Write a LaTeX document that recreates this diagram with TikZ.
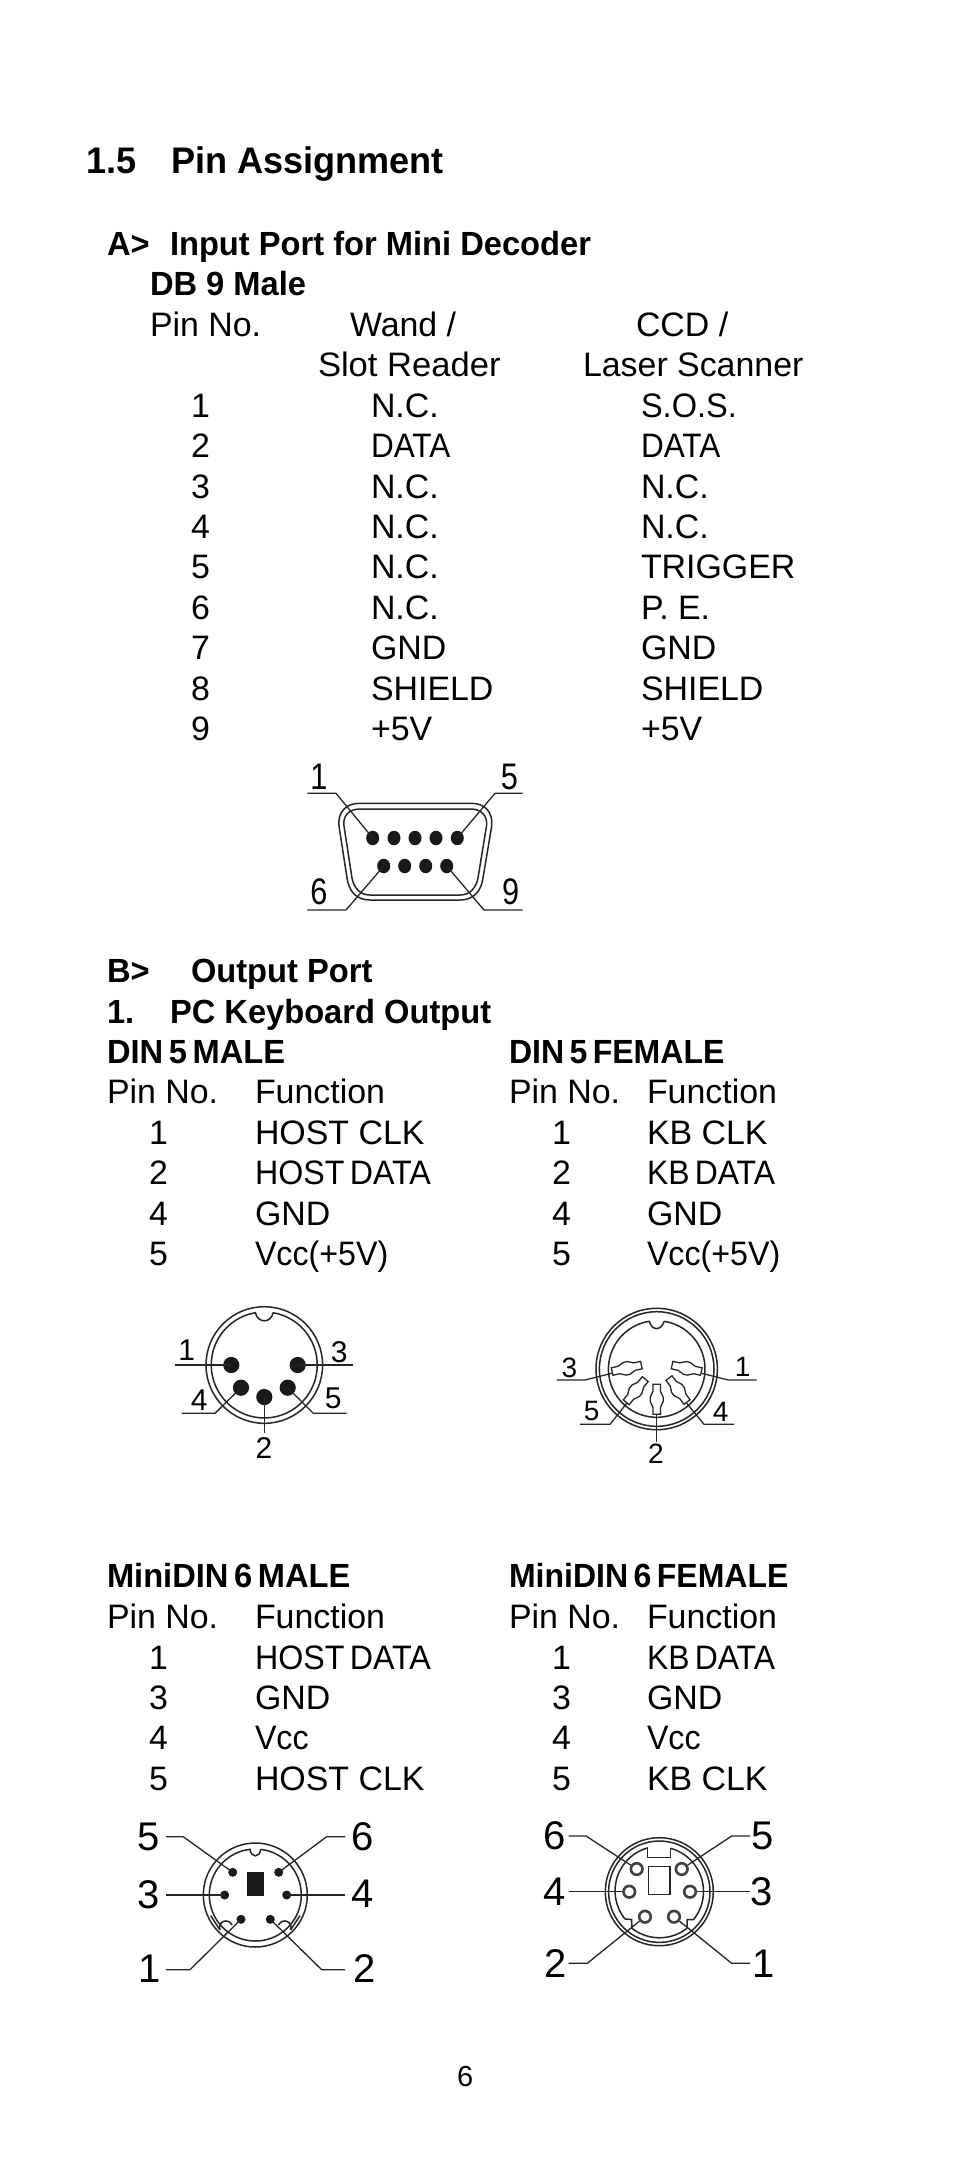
\documentclass[tikz,border=0pt]{standalone}
\usepackage{fontspec}
\usetikzlibrary{shapes.geometric}
\setmainfont[BoldFeatures={FakeStretch=0.975}]{Liberation Sans}
\newcounter{tn}
\tikzset{
 txt/.style={anchor=base west,inner sep=0pt,outer sep=0pt},
 digit/.style={anchor=center,inner sep=0pt,outer sep=0pt},
 leader/.style={draw=black!85,line width=1.3pt},
 outline/.style={draw=black!85,line width=1.5pt},
 solidpin/.style={circle,fill=black!90,draw=none,inner sep=0pt},
 ringpin/.style={circle,draw=black!75,line width=2.6pt,fill=white,inner sep=0pt,minimum size=11.6pt},
}
\newcommand\bodyf{\fontsize{33.9}{40}\selectfont}
\newcommand\boldf{\fontsize{33.5}{40}\selectfont\bfseries}
\newcommand\Sx[2]{\scalebox{#1}[1]{#2}}
\newcommand\T[3]{\stepcounter{tn}\node[txt] (t\arabic{tn}) at (#1,#2) {\bodyf #3};}
\newcommand\B[3]{\stepcounter{tn}\node[txt] (t\arabic{tn}) at (#1,#2) {\boldf #3};}
\newcommand\Dg[4]{\stepcounter{tn}\node[digit] (t\arabic{tn}) at (#1,#2) {\fontsize{#3}{#3}\selectfont #4};}
\newcommand\Dn[3]{\stepcounter{tn}\node[digit] (t\arabic{tn}) at (#1,#2) {\fontsize{37}{37}\selectfont\scalebox{0.83}[1]{#3}};}
% bent leader: free end, elbow, pin
\newcommand\LB[3]{\stepcounter{tn}\coordinate (a\arabic{tn}) at (#1); \coordinate (b\arabic{tn}) at (#2); \draw[leader] (a\arabic{tn}) -- (b\arabic{tn}) -- (#3);}
\newcommand\LS[2]{\stepcounter{tn}\coordinate (a\arabic{tn}) at (#1); \draw[leader] (a\arabic{tn}) -- (#2);}
\newcommand\Wavy[3]{\draw[outline,line width=1.3pt,shift={(#1,#2)},rotate=#3] (-15,-3.8) -- (-8,-3.8) .. controls (-5,-3.8) and (-5,-6.5) .. (-2,-6.5) -- (2,-6.5) .. controls (5,-6.5) and (5,-3.8) .. (8,-3.8) -- (15,-3.8) -- (15,3.8) -- (8,3.8) .. controls (5,3.8) and (5,6.5) .. (2,6.5) -- (-2,6.5) .. controls (-5,6.5) and (-5,3.8) .. (-8,3.8) -- (-15,3.8) -- cycle;}
\begin{document}
\begin{tikzpicture}[x=1pt,y=1pt,yscale=-1]
\useasboundingbox[fill=white] (0,0) rectangle (954,2173);
% title
\stepcounter{tn}\node[txt] (t\arabic{tn}) at (86,173) {\fontsize{37}{40}\selectfont\bfseries 1.5};
\stepcounter{tn}\node[txt] (t\arabic{tn}) at (171,173) {\fontsize{37}{40}\selectfont\bfseries Pin Assignment};
% section A
\B{107}{255}{A>}\B{170}{255}{Input Port for Mini Decoder}
\B{150}{295}{DB 9 Male}
\T{150}{336}{Pin No.}\T{350}{336}{Wand /}\T{636}{336}{CCD /}
\T{318}{376}{\Sx{1.02}{Slot Reader}}\T{583}{376}{Laser Scanner}
\foreach \y/\n/\a/\b in {417/1/N.C./\Sx{.96}{S.O.S.},457/2/\Sx{.93}{DATA}/\Sx{.93}{DATA},498/3/N.C./N.C.,538/4/N.C./N.C.,578/5/N.C./TRIGGER,619/6/N.C./P. E.,659/7/GND/GND,700/8/SHIELD/SHIELD,740/9/+5V/+5V}{
 \T{191}{\y}{\n}\T{371}{\y}{\a}\T{641}{\y}{\b}
}
% DB9
\draw[outline] (360,803.3) -- (471,803.3) .. controls (485,803.3) and (493,812) .. (491.7,826) -- (483,878) .. controls (481,892) and (473,900) .. (460,900) -- (370,900) .. controls (357,900) and (349,892) .. (347,878) -- (339,826) .. controls (337.5,812) and (346,803.3) .. (360,803.3) -- cycle;
\draw[outline] (360,809) -- (471,809) .. controls (481,809) and (488,816) .. (486.5,826) -- (478,878) .. controls (476,888) and (470,895) .. (460,895) -- (370,895) .. controls (360,895) and (354,888) .. (352,878) -- (344,826) .. controls (342.5,816) and (349,809) .. (360,809) -- cycle;
\foreach \n/\x in {1/372.7,2/394,3/415,4/436,5/457.3}{\node[solidpin,ellipse,minimum width=13pt,minimum height=14.5pt] (da\n) at (\x,838) {};}
\foreach \n/\x in {6/383.7,7/404.7,8/425.7,9/446.7}{\node[solidpin,ellipse,minimum width=13pt,minimum height=14.5pt] (da\n) at (\x,866) {};}
\LB{307.3,793.3}{336,793.3}{da1.center}
\LB{522.7,793.3}{495,793.3}{da5.center}
\LB{307.3,910}{346,910}{da6.center}
\LB{522.7,910}{484,910}{da9.center}
\Dn{319}{776.7}{1}\Dn{509.3}{776.7}{5}\Dn{319}{892}{6}\Dn{510.7}{892}{9}
% section B
\B{107}{982}{B>}\B{191}{982}{Output Port}
\B{107}{1023}{1.}\B{170}{1023}{PC Keyboard Output}
\B{107}{1063}{DIN\,5\,MALE}\B{509}{1063}{\Sx{.98}{DIN\,5\,FEMALE}}
\T{107}{1103}{Pin No.}\T{255}{1103}{Function}\T{509}{1103}{Pin No.}\T{647}{1103}{Function}
\T{149}{1144}{1}\T{255}{1144}{HOST CLK}\T{552}{1144}{1}\T{647}{1144}{KB CLK}
\T{149}{1184}{2}\T{255}{1184}{\Sx{.95}{HOST\,DATA}}\T{552}{1184}{2}\T{647}{1184}{\Sx{.94}{KB\,DATA}}
\T{149}{1225}{4}\T{255}{1225}{GND}\T{552}{1225}{4}\T{647}{1225}{GND}
\T{149}{1265}{5}\T{255}{1265}{\Sx{.95}{Vcc(+5V)}}\T{552}{1265}{5}\T{647}{1265}{\Sx{.95}{Vcc(+5V)}}
% DIN5 male
\draw[outline] (264.3,1365) circle[radius=58.3];
\draw[outline] (273.1,1312.7) arc[start angle=-80.4,end angle=260.4,radius=53] .. controls (257.6,1323.5) and (271,1323.5) .. (273.1,1312.7);
\foreach \n/\x/\y in {1/231.3/1365,3/297.7/1365,4/241/1387.7,5/287.7/1387.7,2/264.3/1397}{\node[solidpin,minimum size=16.2pt] (db\n) at (\x,\y) {};}
\LS{175,1365}{db1.center}
\LS{353.3,1365}{db3.center}
\LB{181.7,1413.3}{215,1413.3}{db4.center}
\LB{346.7,1413.3}{313.3,1413.3}{db5.center}
\LS{264.3,1433.3}{db2.center}
\Dg{186.7}{1350}{30}{1}\Dg{339.3}{1351.7}{30}{3}\Dg{199.3}{1400}{30}{4}\Dg{333.3}{1398.3}{30}{5}\Dg{264}{1448.3}{30}{2}
% DIN5 female
\draw[outline] (656.7,1369) circle[radius=60.7];
\draw[outline] (656.7,1369) circle[radius=57.3];
\draw[outline] (664.2,1321.3) arc[start angle=-81.1,end angle=261.1,radius=48.3] .. controls (652,1331) and (661,1331) .. (664.2,1321.3);
\Wavy{626.7}{1368.3}{-12.5}\Wavy{686.7}{1368.3}{12.5}\Wavy{635.7}{1390.7}{-50.6}\Wavy{678}{1390}{53}\Wavy{656.7}{1399.3}{90}
\coordinate (fp3) at (611.7,1373.3);\coordinate (fp1) at (701.7,1373.3);\coordinate (fp5) at (626.7,1403.3);\coordinate (fp4) at (686.7,1403.3);\coordinate (fp2) at (656.7,1414);
\LB{556.7,1380}{585,1380}{fp3}
\LB{756.7,1380}{728.3,1380}{fp1}
\LB{580,1424.3}{610,1424.3}{fp5}
\LB{734,1424.3}{704,1424.3}{fp4}
\LS{656.7,1441.7}{fp2}
\Dg{569.3}{1367.7}{28}{3}\Dg{742.7}{1366.7}{28}{1}\Dg{591.7}{1410.7}{28}{5}\Dg{720.7}{1411.7}{28}{4}\Dg{656}{1454}{28}{2}
% MiniDIN headings
\B{107}{1587.5}{MiniDIN\,6\,MALE}\B{509}{1587.5}{\Sx{.98}{MiniDIN\,6\,FEMALE}}
\T{107}{1628}{Pin No.}\T{255}{1628}{Function}\T{509}{1628}{Pin No.}\T{647}{1628}{Function}
\T{149}{1669}{1}\T{255}{1669}{\Sx{.95}{HOST\,DATA}}\T{552}{1669}{1}\T{647}{1669}{\Sx{.94}{KB\,DATA}}
\T{149}{1709}{3}\T{255}{1709}{GND}\T{552}{1709}{3}\T{647}{1709}{GND}
\T{149}{1749}{4}\T{255}{1749}{\Sx{.95}{Vcc}}\T{552}{1749}{4}\T{647}{1749}{\Sx{.95}{Vcc}}
\T{149}{1790}{5}\T{255}{1790}{HOST CLK}\T{552}{1790}{5}\T{647}{1790}{KB CLK}
% MiniDIN male
\draw[outline] (255.3,1895) circle[radius=52];
\draw[outline] (260.6,1849.3) arc[start angle=-83.4,end angle=263.4,radius=46] .. controls (251,1858) and (260,1858) .. (260.6,1849.3);
\draw[outline] (220,1930) .. controls (217,1922) and (228,1917) .. (232,1925);
\draw[outline] (290.6,1930) .. controls (293.6,1922) and (282.6,1917) .. (278.6,1925);
\draw[outline] (210.7,1915.7) -- (220,1930);
\draw[outline] (299.9,1915.7) -- (290.6,1930);
\node[rectangle,fill=black!90,draw=none,minimum width=17.3pt,minimum height=24pt,inner sep=0pt] (mrect) at (255.6,1883.7) {};
\foreach \n/\x/\y in {5/232.7/1872.3,6/278.7/1872.3,3/224.7/1895,4/286.7/1895,1/241/1919.3,2/270.3/1919.3}{\node[solidpin,minimum size=9pt] (mc\n) at (\x,\y) {};}
\LB{166,1836.7}{183.3,1836.7}{mc5.center}
\LB{345,1836.7}{326.7,1836.7}{mc6.center}
\LS{166,1895}{mc3.center}
\LS{345,1895}{mc4.center}
\LB{166,1969.7}{190,1969.7}{mc1.center}
\LB{345,1969.7}{321.7,1969.7}{mc2.center}
\Dg{148.3}{1836.7}{40}{5}\Dg{362.3}{1836.7}{40}{6}\Dg{148.3}{1895}{40}{3}\Dg{362.3}{1894}{40}{4}\Dg{150}{1969}{40}{1}\Dg{365}{1969}{40}{2}
% MiniDIN female
\draw[outline] (659.3,1891.7) circle[radius=54];
\draw[outline] (659.3,1891.7) circle[radius=50.7];
\draw[outline] (670.7,1848.3) -- (670.7,1857.7) -- (647.7,1857.7) -- (647.7,1848.3);
\draw[outline] (670.7,1848.3) arc[start angle=-74.6,end angle=39,radius=44.7] -- (687,1919.5) -- (687,1928.3);
\draw[outline] (687,1928.3) arc[start angle=52,end angle=128,radius=44.7] -- (631.6,1919.5) -- (625,1919);
\draw[outline] (625,1919) arc[start angle=141,end angle=254.6,radius=44.7];
\node[rectangle,draw=black!85,line width=1.5pt,fill=white,minimum width=21.3pt,minimum height=27.6pt,inner sep=0pt] (frect) at (659.3,1880.5) {};
\foreach \n/\x/\y in {6/636.7/1869,5/681.7/1869,4/629.3/1891.7,3/690/1891.7,2/645/1916.7,1/674/1916.7}{\node[ringpin] (mf\n) at (\x,\y) {};}
\LB{568.7,1836}{586,1836}{mf6}
\LB{750,1836}{731.7,1836}{mf5}
\LS{568.7,1891.7}{mf4}
\LS{750,1891.7}{mf3}
\LB{568.7,1963.3}{587.3,1963.3}{mf2}
\LB{750,1963.3}{731.7,1963.3}{mf1}
\Dg{554.3}{1836}{40}{6}\Dg{762.3}{1836}{40}{5}\Dg{555}{1891.7}{40}{4}\Dg{761.7}{1891.7}{40}{3}\Dg{555.7}{1963.3}{40}{2}\Dg{763.3}{1963.3}{40}{1}
% page number
\stepcounter{tn}\node[txt] (t\arabic{tn}) at (457,2086.5) {\fontsize{29}{30}\selectfont 6};
\end{tikzpicture}
\end{document}
